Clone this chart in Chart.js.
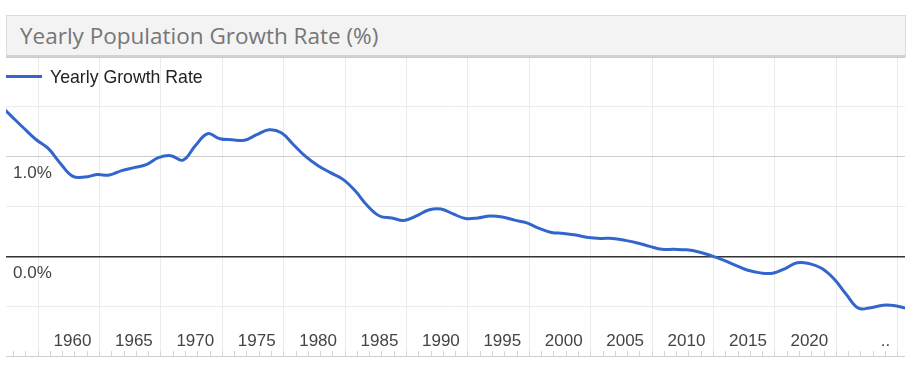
<!DOCTYPE html>
<html>
<head>
<meta charset="utf-8">
<title>Yearly Population Growth Rate (%)</title>
<script src="https://cdn.jsdelivr.net/npm/chart.js@4.4.0/dist/chart.umd.min.js"></script>
<style>
    html, body { margin: 0; padding: 0; background: #fff; }
    .wrap { position: relative; width: 911px; height: 369px; overflow: hidden; }
    #chart { position: absolute; left: 0; top: 0; }
    .title-box {
        position: absolute; left: 6px; top: 15px; height: 39px; width: 885px;
        background: #f3f3f3; border: 1px solid #dcdcdc; border-bottom: 2px solid #d2d2d2;
        font-family: "Open Sans", sans-serif; font-size: 22.5px; line-height: 39px;
        color: #767676; padding-left: 13px;
    }
    .legend { position: absolute; left: 6px; top: 66px; height: 22px; }
    .legend .swatch { position: absolute; left: 0; top: 9px; width: 36px; height: 3px; background: #3366cc; }
    .legend .label {
        position: absolute; left: 44px; top: 0; white-space: nowrap;
        font-family: "Liberation Sans", Arial, sans-serif; font-size: 17.7px; line-height: 22px; color: #222;
    }
</style>
</head>
<body>
<div class="wrap">
    <canvas id="chart" width="911" height="369"></canvas>
    <div class="title-box">Yearly Population Growth Rate (%)</div>
    <div class="legend"><span class="swatch"></span><span class="label">Yearly Growth Rate</span></div>
</div>
<script>
// yearly growth rate (%), 1954 - 2028
const years = [];
for (let y = 1954; y <= 2028; y++) years.push(y);

const growthRate = [
    1.53, 1.41, 1.29, 1.175, 1.085, 0.935,           // 1954-1959
    0.805, 0.795, 0.82, 0.815, 0.86, 0.89, 0.92, 0.99, 1.01, 0.965,  // 1960-1969
    1.11, 1.23, 1.18, 1.17, 1.165, 1.22, 1.27, 1.24, 1.12, 1.00,     // 1970-1979
    0.91, 0.84, 0.775, 0.66, 0.51, 0.405, 0.385, 0.36, 0.405, 0.465, // 1980-1989
    0.475, 0.425, 0.38, 0.385, 0.405, 0.395, 0.363, 0.335, 0.28, 0.24, // 1990-1999
    0.23, 0.213, 0.19, 0.18, 0.18, 0.16, 0.134, 0.10, 0.07, 0.07,    // 2000-2009
    0.065, 0.044, 0.007, -0.038, -0.09, -0.14, -0.166, -0.17, -0.125, -0.065, // 2010-2019
    -0.073, -0.12, -0.225, -0.38, -0.52, -0.515, -0.49, -0.495, -0.525 // 2020-2028
];

// x axis labels (last one is the truncated label at the right edge)
const xTickValues = [1960, 1965, 1970, 1975, 1980, 1985, 1990, 1995, 2000, 2005, 2010, 2015, 2020, 2026.2];
const xTickLabels = ['1960', '1965', '1970', '1975', '1980', '1985', '1990', '1995', '2000', '2005', '2010', '2015', '2020', '..'];

// vertical grid lines every 5 years, small ticks every year
const xGridValues = [];
for (let k = 0; k < 15; k++) xGridValues.push(1957.2 + 5 * k);
const xMinorValues = [];
for (let k = 0; k < 73; k++) xMinorValues.push(1955.2 + k);

// y axis
const yTickValues = [-1, -0.5, 0, 0.5, 1, 1.5, 2];
const yTickLabels = ['', '', '0.0%', '', '1.0%', '', ''];

const xMin = 1954.585;
const xMax = 2027.79;
const axisFont = { family: '"Liberation Sans", Arial, sans-serif', size: 17 };

// scales sit inside the plot, so they take no room of their own
function noRoom(scale) {
    if (scale.isHorizontal()) scale.height = 0;
    else scale.width = 0;
    scale.paddingTop = 0;
    scale.paddingBottom = 0;
    scale.paddingLeft = 0;
    scale.paddingRight = 0;
}

let ctx = document.getElementById('chart');

new Chart(ctx, {
    type: 'line',
    data: {
        datasets: [{
            label: 'Yearly Growth Rate',
            data: years.map((y, i) => ({ x: y, y: growthRate[i] })),
            borderColor: '#3366cc',
            backgroundColor: '#3366cc',
            borderWidth: 3,
            pointRadius: 0,
            tension: 0.4,
            fill: false
        }]
    },
    options: {
        responsive: false,
        animation: false,
        layout: { padding: { left: 6, right: 6, top: 57, bottom: 13 } },
        plugins: {
            legend: { display: false },
            tooltip: { enabled: false }
        },
        scales: {
            // year labels, drawn inside the plot area
            x: {
                type: 'linear',
                position: 'bottom',
                min: xMin,
                max: xMax,
                afterBuildTicks: scale => { scale.ticks = xTickValues.map(v => ({ value: v })); },
                afterFit: noRoom,
                grid: { display: false },
                border: { display: false },
                ticks: {
                    autoSkip: false,
                    maxRotation: 0,
                    mirror: true,
                    padding: 4.5,
                    color: '#444',
                    font: axisFont,
                    callback: (value, index) => xTickLabels[index]
                }
            },
            // grid lines and the small year ticks
            xGrid: {
                type: 'linear',
                position: 'bottom',
                min: xMin,
                max: xMax,
                afterBuildTicks: scale => { scale.ticks = xMinorValues.map(v => ({ value: v })); },
                afterFit: noRoom,
                border: { display: false },
                grid: {
                    color: c => xGridValues.some(g => Math.abs(g - c.tick.value) < 0.01) ? '#ebebeb' : 'rgba(0,0,0,0)',
                    tickColor: '#d6d6d6',
                    tickLength: -5,
                    lineWidth: 1
                },
                ticks: { display: false }
            },
            y: {
                min: -1,
                max: 2,
                afterBuildTicks: scale => { scale.ticks = yTickValues.map(v => ({ value: v })); },
                afterFit: noRoom,
                border: { display: false },
                grid: {
                    drawTicks: false,
                    color: c => {
                        let v = c.tick.value;
                        if (v === 0) return '#333';
                        if (v === 1 || v === -1 || v === 2) return '#cccccc';
                        return '#ebebeb';
                    },
                    lineWidth: c => c.tick.value === 0 ? 1.5 : 1
                },
                ticks: {
                    mirror: true,
                    padding: 7,
                    labelOffset: 16.8,
                    color: '#444',
                    font: axisFont,
                    callback: (value, index) => yTickLabels[index]
                }
            }
        }
    }
});
</script>
</body>
</html>
